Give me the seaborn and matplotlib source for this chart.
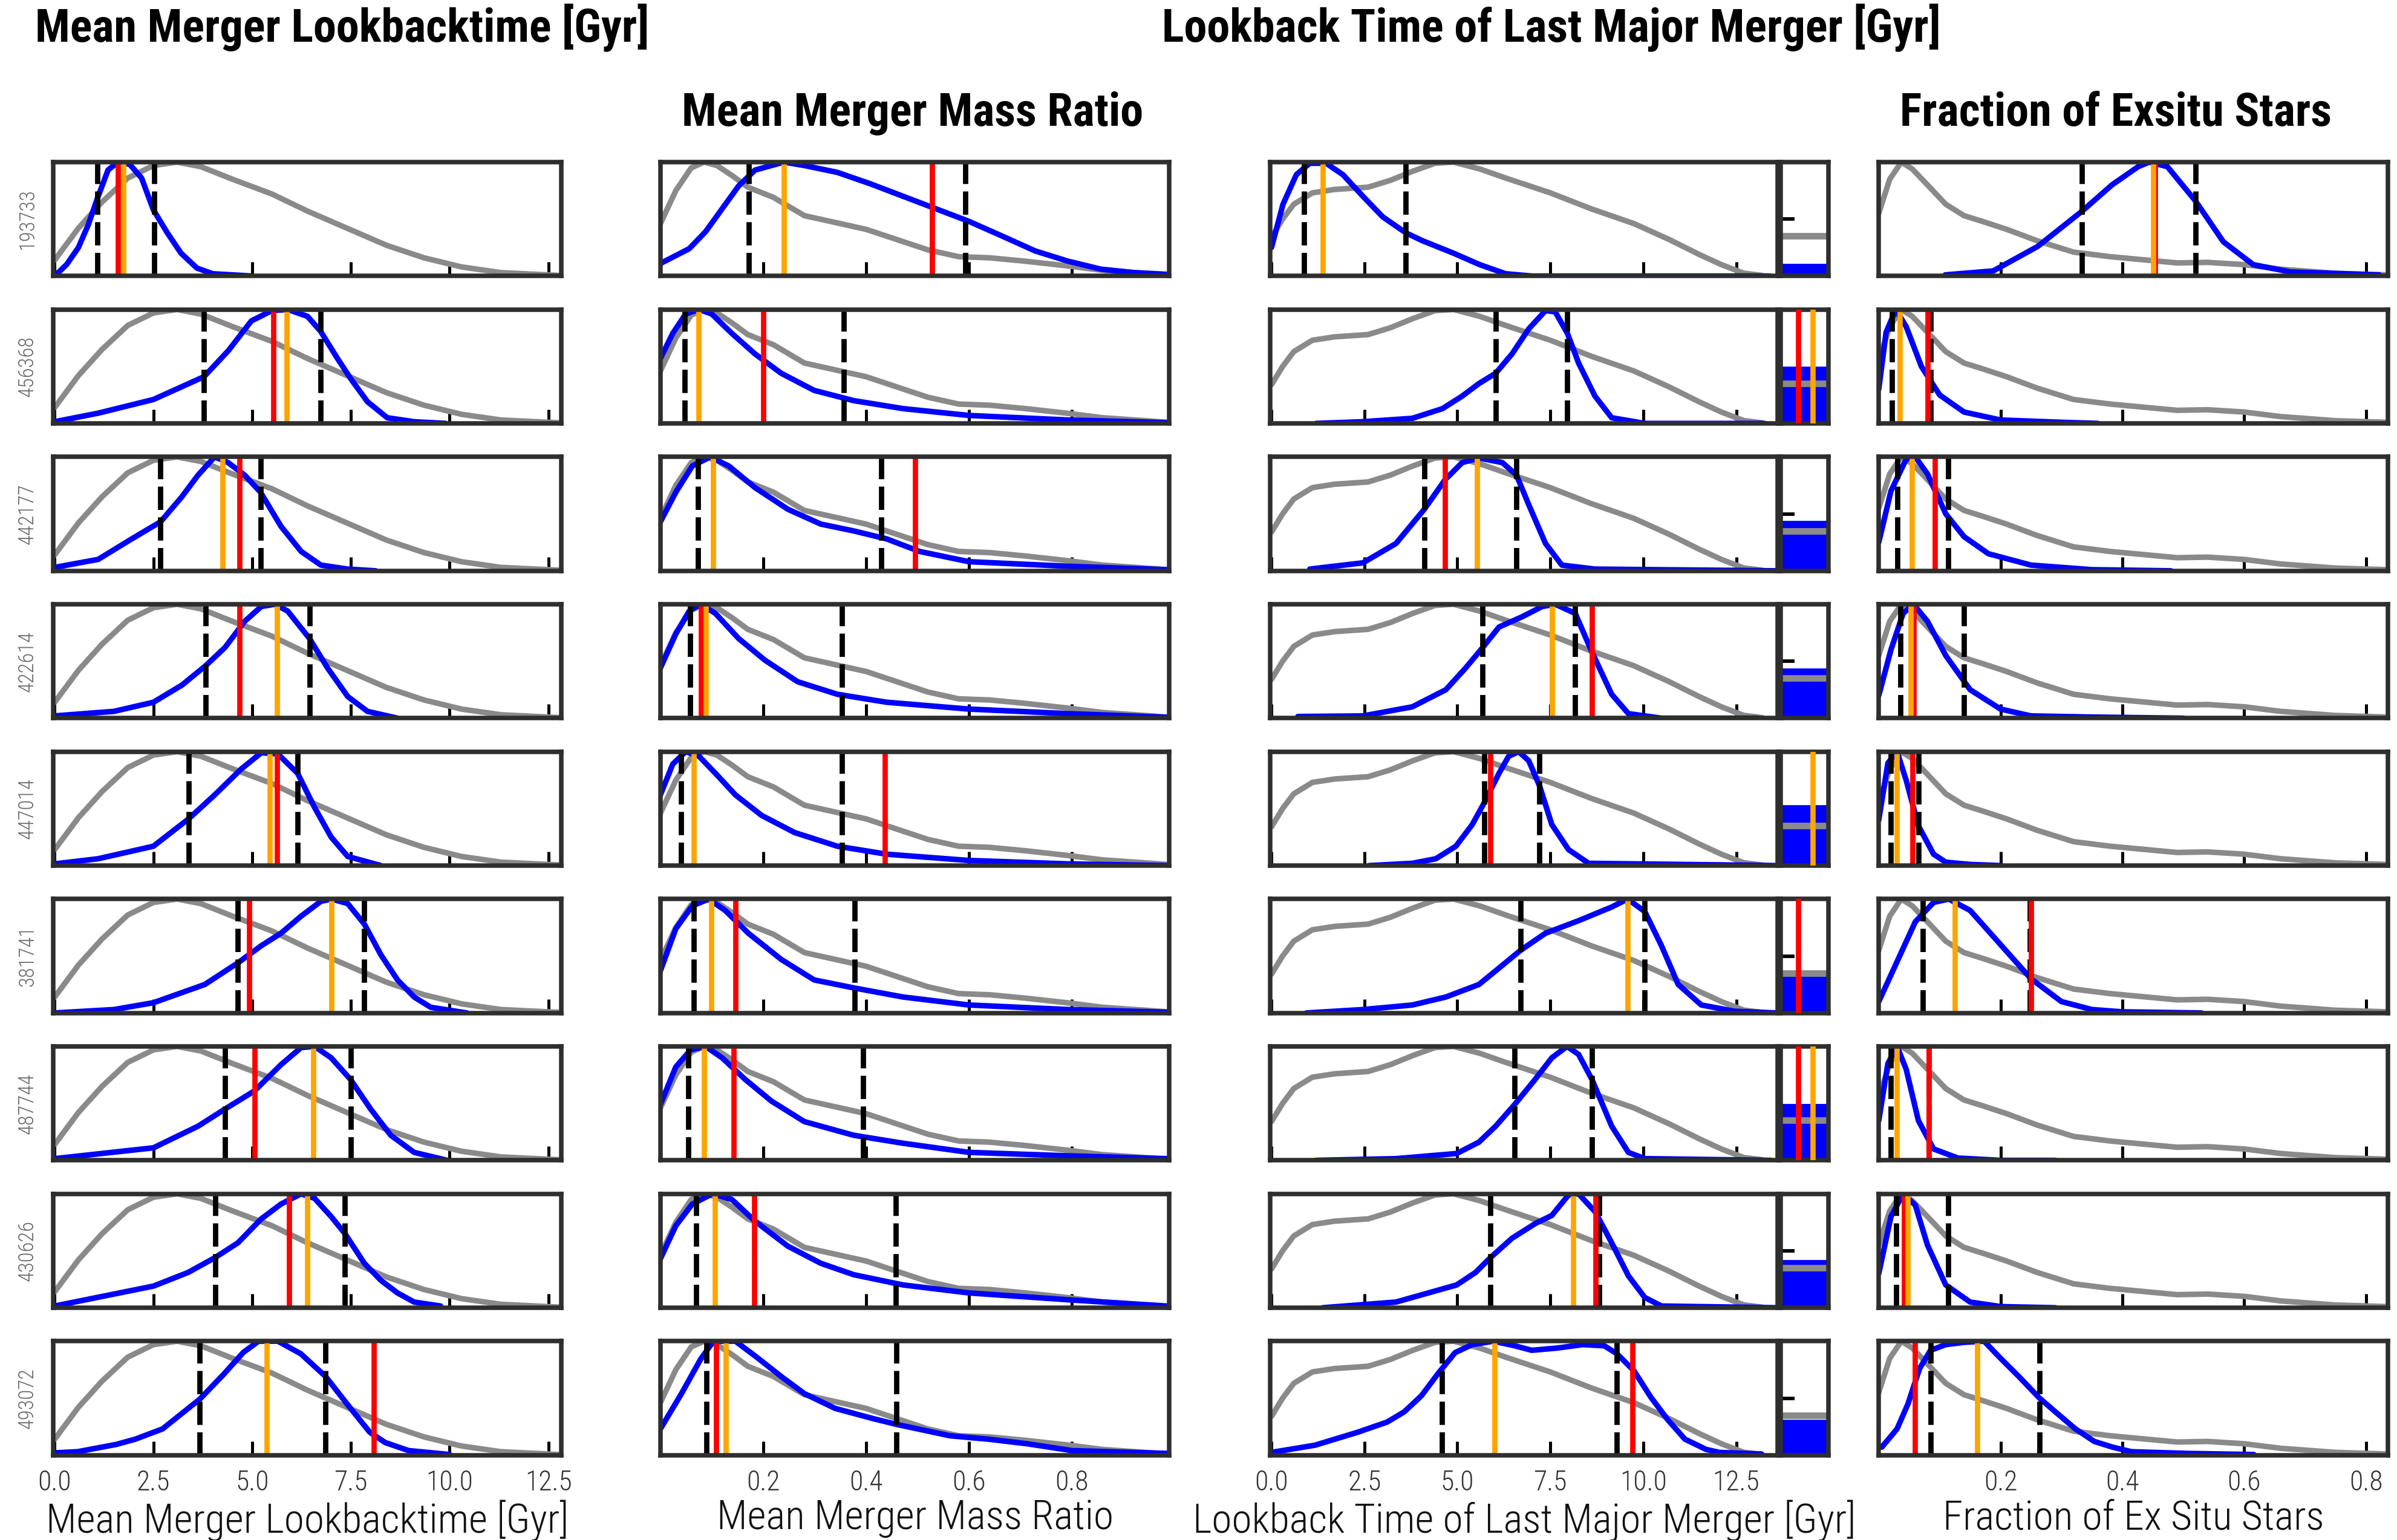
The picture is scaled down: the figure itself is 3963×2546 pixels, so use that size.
import numpy as np
import matplotlib
matplotlib.use("Agg")
import matplotlib.pyplot as plt
import seaborn as sns

# galaxy ids, one per row
galaxy_ids = ['193733', '456368', '442177', '422614', '447014',
              '381741', '487744', '430626', '493072']

# ---------------- Mean merger lookback time [Gyr] ----------------
mlt_prior_x = [0, 0.6, 1.2, 1.85, 2.5, 3.1, 3.7, 4.5, 5.5, 6.4, 7.4, 8.4, 9.35, 10.3, 11.3, 12.8]
mlt_prior_y = [0.14, 0.42, 0.65, 0.86, 0.97, 1.0, 0.96, 0.85, 0.72, 0.57, 0.42, 0.27, 0.16, 0.08, 0.03, 0.005]
mlt_post_x = [
    [0, 0.3, 0.6, 0.85, 1.08, 1.35, 1.6, 1.9, 2.2, 2.5, 2.85, 3.2, 3.6, 4.0, 5.0],
    [0, 1.1, 2.5, 3.78, 4.4, 4.98, 5.5, 5.9, 6.4, 6.73, 7.16, 7.5, 7.92, 8.42, 9.1, 9.9],
    [0, 1.1, 1.95, 2.68, 3.22, 3.63, 4.05, 4.39, 4.81, 5.21, 5.73, 6.24, 6.74, 7.42, 8.13],
    [0, 1.5, 2.5, 3.22, 3.82, 4.31, 4.81, 5.23, 5.57, 5.9, 6.45, 6.91, 7.42, 7.92, 8.68],
    [0, 1.1, 2.5, 3.39, 4.05, 4.73, 5.23, 5.65, 6.15, 6.58, 7.0, 7.42, 8.26],
    [0, 1.5, 2.5, 3.8, 4.64, 5.23, 5.73, 6.24, 6.74, 7.01, 7.42, 7.84, 8.26, 8.68, 9.1, 9.52, 10.44],
    [0, 2.5, 3.63, 4.31, 5.06, 5.73, 6.24, 6.58, 7.0, 7.49, 8.0, 8.51, 9.1, 9.94],
    [0, 2.5, 3.38, 4.06, 4.64, 5.23, 5.73, 6.24, 6.58, 7.0, 7.35, 7.84, 8.26, 8.68, 9.1, 9.77],
    [0, 0.58, 1.56, 2.04, 2.73, 3.67, 4.28, 4.77, 5.16, 5.65, 6.23, 6.86, 7.4, 7.98, 8.37, 8.96, 10.0],
]
mlt_post_y = [
    [0.0, 0.1, 0.25, 0.45, 0.68, 0.93, 1.0, 0.98, 0.86, 0.58, 0.38, 0.2, 0.07, 0.02, 0.0],
    [0.015, 0.09, 0.21, 0.41, 0.64, 0.9, 0.99, 1.0, 0.94, 0.81, 0.57, 0.39, 0.19, 0.05, 0.015, 0.0],
    [0.03, 0.1, 0.28, 0.43, 0.65, 0.84, 1.0, 0.95, 0.84, 0.69, 0.39, 0.17, 0.05, 0.015, 0.0],
    [0.02, 0.06, 0.14, 0.29, 0.46, 0.62, 0.85, 0.98, 1.0, 0.94, 0.7, 0.44, 0.19, 0.06, 0.0],
    [0.015, 0.06, 0.17, 0.41, 0.62, 0.85, 0.99, 0.98, 0.81, 0.51, 0.25, 0.08, 0.0],
    [0.0, 0.03, 0.09, 0.25, 0.44, 0.59, 0.7, 0.85, 0.98, 1.0, 0.96, 0.78, 0.51, 0.29, 0.14, 0.05, 0.0],
    [0.015, 0.11, 0.3, 0.45, 0.61, 0.84, 0.99, 1.0, 0.9, 0.71, 0.45, 0.22, 0.07, 0.0],
    [0.015, 0.19, 0.31, 0.44, 0.57, 0.78, 0.91, 1.0, 0.96, 0.8, 0.65, 0.39, 0.24, 0.13, 0.05, 0.015],
    [0.02, 0.03, 0.094, 0.14, 0.23, 0.49, 0.71, 0.9, 1.0, 1.0, 0.89, 0.69, 0.45, 0.2, 0.11, 0.04, 0.005],
]
mlt_lo = [1.08, 3.78, 2.68, 3.82, 3.39, 4.64, 4.31, 4.06, 3.67]
mlt_hi = [2.52, 6.73, 5.21, 6.45, 6.15, 7.84, 7.49, 7.35, 6.86]
mlt_med = [1.74, 5.88, 4.25, 5.63, 5.45, 7.01, 6.55, 6.4, 5.37]
mlt_true = [1.6, 5.54, 4.68, 4.68, 5.63, 4.92, 5.06, 5.93, 8.08]

# ---------------- Mean merger mass ratio ----------------
mmr_prior_x = [0, 0.03, 0.06, 0.085, 0.11, 0.14, 0.17, 0.22, 0.28, 0.34, 0.40, 0.46, 0.52, 0.58,
               0.64, 0.71, 0.79, 0.86, 0.94, 0.985]
mmr_prior_y = [0.46, 0.75, 0.95, 1.0, 0.97, 0.88, 0.78, 0.69, 0.53, 0.47, 0.41, 0.32, 0.23, 0.17,
               0.16, 0.13, 0.09, 0.05, 0.025, 0.01]
mmr_post_x = [
    [0, 0.056, 0.088, 0.12, 0.152, 0.184, 0.24, 0.28, 0.344, 0.408, 0.472, 0.536, 0.6, 0.665, 0.729, 0.793, 0.857, 0.921, 0.985],
    [0, 0.024, 0.049, 0.075, 0.1, 0.139, 0.184, 0.235, 0.299, 0.376, 0.472, 0.6, 0.793, 0.985],
    [0, 0.03, 0.062, 0.097, 0.133, 0.184, 0.248, 0.312, 0.376, 0.44, 0.504, 0.6, 0.793, 0.985],
    [0, 0.03, 0.056, 0.078, 0.107, 0.152, 0.203, 0.267, 0.344, 0.44, 0.6, 0.793, 0.985],
    [0, 0.024, 0.049, 0.075, 0.107, 0.146, 0.197, 0.261, 0.344, 0.44, 0.6, 0.793, 0.985],
    [0, 0.03, 0.062, 0.094, 0.126, 0.171, 0.235, 0.299, 0.376, 0.472, 0.6, 0.793, 0.985],
    [0, 0.03, 0.059, 0.088, 0.12, 0.165, 0.216, 0.28, 0.376, 0.472, 0.6, 0.793, 0.985],
    [0, 0.03, 0.062, 0.101, 0.139, 0.184, 0.248, 0.312, 0.376, 0.472, 0.6, 0.793, 0.985],
    [0, 0.041, 0.078, 0.1, 0.116, 0.146, 0.19, 0.235, 0.28, 0.34, 0.414, 0.459, 0.563, 0.638, 0.713, 0.8, 0.985],
]
mmr_post_y = [
    [0.11, 0.24, 0.39, 0.59, 0.79, 0.93, 1.0, 0.97, 0.91, 0.81, 0.7, 0.59, 0.48, 0.35, 0.22, 0.13, 0.06, 0.03, 0.015],
    [0.57, 0.79, 0.96, 1.0, 0.96, 0.79, 0.61, 0.44, 0.29, 0.2, 0.13, 0.07, 0.03, 0.007],
    [0.43, 0.69, 0.92, 1.0, 0.92, 0.73, 0.54, 0.41, 0.35, 0.28, 0.17, 0.08, 0.04, 0.01],
    [0.44, 0.74, 0.94, 1.0, 0.92, 0.7, 0.51, 0.32, 0.21, 0.14, 0.08, 0.04, 0.008],
    [0.62, 0.89, 1.0, 0.96, 0.81, 0.62, 0.44, 0.29, 0.17, 0.1, 0.045, 0.015, 0.0],
    [0.37, 0.74, 0.94, 1.0, 0.9, 0.7, 0.47, 0.29, 0.22, 0.14, 0.07, 0.03, 0.007],
    [0.49, 0.82, 0.97, 1.0, 0.9, 0.71, 0.52, 0.34, 0.22, 0.15, 0.07, 0.04, 0.015],
    [0.43, 0.72, 0.91, 1.0, 0.95, 0.76, 0.54, 0.39, 0.29, 0.2, 0.13, 0.07, 0.015],
    [0.23, 0.54, 0.84, 0.98, 1.0, 1.0, 0.85, 0.69, 0.54, 0.41, 0.32, 0.27, 0.17, 0.14, 0.1, 0.04, 0.015],
]
mmr_lo = [0.172, 0.047, 0.073, 0.058, 0.04, 0.065, 0.054, 0.069, 0.09]
mmr_hi = [0.593, 0.357, 0.43, 0.353, 0.353, 0.378, 0.394, 0.458, 0.459]
mmr_med = [0.24, 0.074, 0.102, 0.088, 0.065, 0.099, 0.085, 0.106, 0.127]
mmr_true = [0.528, 0.2, 0.495, 0.079, 0.437, 0.146, 0.142, 0.182, 0.108]

# ---------------- Lookback time of last major merger [Gyr] ----------------
# inf = no major merger (drawn in the side bar), nan = not shown
lmm_prior_x = [0, 0.3, 0.6, 1.1, 1.7, 2.6, 3.2, 3.8, 4.4, 4.9, 5.6, 6.3, 7.5, 8.6, 9.75, 10.7,
               11.5, 12.1, 12.7, 13.2]
lmm_prior_y = [0.34, 0.5, 0.63, 0.73, 0.76, 0.78, 0.84, 0.92, 0.99, 1.0, 0.94, 0.86, 0.73, 0.59,
               0.46, 0.32, 0.19, 0.1, 0.025, 0.005]
lmm_post_x = [
    [0, 0.31, 0.67, 1.03, 1.47, 1.92, 2.46, 2.99, 3.61, 4.06, 4.9, 5.6, 6.3, 7.0, 13.4],
    [1.2, 2.46, 3.79, 4.6, 5.13, 5.58, 6.03, 6.47, 6.92, 7.37, 7.63, 7.96, 8.26, 8.7, 9.15, 10.04, 13.26],
    [1.03, 2.46, 3.35, 4.11, 4.67, 5.13, 5.58, 6.21, 6.59, 6.92, 7.37, 7.81, 8.7, 13.6],
    [0.71, 2.46, 3.79, 4.69, 5.22, 5.68, 6.12, 6.74, 7.28, 7.63, 8.17, 8.62, 9.15, 9.6, 10.49, 13.08],
    [2.63, 3.79, 4.42, 4.96, 5.4, 5.72, 6.12, 6.38, 6.65, 6.92, 7.21, 7.54, 7.99, 8.53, 13.6],
    [0.94, 2.46, 3.79, 4.69, 5.58, 6.03, 6.7, 7.37, 8.26, 9.15, 9.58, 10.04, 10.49, 10.94, 11.56, 12.46, 13.6],
    [1.2, 3.35, 4.98, 5.58, 6.03, 6.54, 7.09, 7.54, 7.95, 8.26, 8.62, 9.15, 9.6, 10.04, 13.44],
    [1.38, 3.35, 4.98, 5.49, 5.89, 6.47, 7.1, 7.54, 7.99, 8.26, 8.71, 9.15, 9.6, 10.04, 10.49, 13.6],
    [0, 1.17, 2.31, 3.11, 3.57, 4.03, 4.49, 4.94, 5.4, 5.97, 6.54, 7.0, 7.69, 8.37, 8.95, 9.29, 9.75,
     10.2, 10.66, 11.12, 11.69, 12.04, 13.18],
]
lmm_post_y = [
    [0.25, 0.63, 0.89, 0.99, 0.99, 0.89, 0.7, 0.52, 0.38, 0.31, 0.2, 0.1, 0.02, 0.0, 0.0],
    [0.0, 0.015, 0.045, 0.13, 0.24, 0.35, 0.44, 0.61, 0.83, 0.99, 0.98, 0.79, 0.53, 0.24, 0.05, 0.0, 0.0],
    [0.015, 0.07, 0.24, 0.54, 0.8, 0.95, 0.99, 0.95, 0.84, 0.58, 0.24, 0.05, 0.015, 0.0],
    [0.015, 0.02, 0.1, 0.25, 0.44, 0.62, 0.8, 0.89, 0.98, 1.0, 0.92, 0.58, 0.21, 0.04, 0.0, 0.0],
    [0.0, 0.02, 0.06, 0.17, 0.36, 0.55, 0.81, 0.96, 1.0, 0.92, 0.7, 0.36, 0.14, 0.02, 0.0],
    [0.0, 0.03, 0.07, 0.14, 0.25, 0.37, 0.55, 0.7, 0.81, 0.93, 1.0, 0.89, 0.59, 0.25, 0.07, 0.015, 0.0],
    [0.0, 0.015, 0.06, 0.16, 0.3, 0.49, 0.71, 0.9, 1.0, 0.93, 0.71, 0.3, 0.07, 0.015, 0.0],
    [0.0, 0.05, 0.2, 0.31, 0.44, 0.61, 0.74, 0.81, 0.99, 1.0, 0.84, 0.57, 0.28, 0.09, 0.015, 0.0],
    [0.024, 0.087, 0.2, 0.29, 0.38, 0.52, 0.72, 0.9, 0.97, 1.0, 0.96, 0.92, 0.94, 0.97, 0.96, 0.89,
     0.74, 0.51, 0.31, 0.14, 0.05, 0.024, 0.01],
]
lmm_lo = [0.87, 6.03, 4.11, 5.68, 5.72, 6.7, 6.54, 5.89, 4.58]
lmm_hi = [3.61, 7.96, 6.59, 8.17, 7.21, 10.04, 8.62, 8.82, 9.29]
lmm_med = [1.38, np.inf, 5.53, 7.55, np.inf, 9.58, np.inf, 8.11, 6.0]
lmm_true = [np.nan, np.inf, 4.67, 8.62, 5.89, np.inf, np.inf, 8.71, 9.71]

# fraction of posterior / prior with no major merger (side bar)
nomm_post = [0.12, 0.51, 0.45, 0.45, 0.54, 0.38, 0.505, 0.43, 0.32]
nomm_prior = 0.35

# ---------------- Fraction of ex situ stars ----------------
fex_prior_x = [0, 0.018, 0.037, 0.055, 0.08, 0.11, 0.14, 0.17, 0.21, 0.26, 0.32, 0.38, 0.44,
               0.49, 0.54, 0.6, 0.66, 0.75, 0.835]
fex_prior_y = [0.55, 0.85, 1.0, 0.94, 0.8, 0.63, 0.53, 0.48, 0.41, 0.31, 0.21, 0.17, 0.14,
               0.115, 0.12, 0.1, 0.06, 0.024, 0.01]
fex_post_x = [
    [0.109, 0.188, 0.261, 0.334, 0.383, 0.426, 0.444, 0.474, 0.52, 0.566, 0.615, 0.676, 0.822],
    [0.0, 0.012, 0.028, 0.045, 0.07, 0.1, 0.14, 0.2, 0.3, 0.36],
    [0.0, 0.02, 0.045, 0.06, 0.08, 0.11, 0.14, 0.18, 0.25, 0.35, 0.48],
    [0.0, 0.02, 0.04, 0.057, 0.08, 0.11, 0.15, 0.2, 0.25, 0.35, 0.5],
    [0.0, 0.015, 0.03, 0.045, 0.065, 0.09, 0.11, 0.15, 0.2],
    [0.0, 0.03, 0.06, 0.09, 0.115, 0.15, 0.2, 0.25, 0.3, 0.35, 0.4, 0.53],
    [0.0, 0.015, 0.03, 0.045, 0.065, 0.09, 0.13, 0.2, 0.29],
    [0.0, 0.02, 0.04, 0.06, 0.08, 0.11, 0.15, 0.2, 0.29],
    [0.005, 0.03, 0.048, 0.067, 0.085, 0.11, 0.14, 0.173, 0.2, 0.23, 0.264, 0.29, 0.323, 0.354,
     0.384, 0.415, 0.506, 0.616],
]
fex_post_y = [
    [0.01, 0.045, 0.26, 0.57, 0.8, 0.96, 1.0, 0.96, 0.66, 0.3, 0.1, 0.036, 0.01],
    [0.3, 0.8, 1.0, 0.85, 0.5, 0.25, 0.1, 0.03, 0.01, 0.0],
    [0.25, 0.7, 0.98, 1.0, 0.85, 0.5, 0.3, 0.15, 0.05, 0.01, 0.0],
    [0.2, 0.6, 0.92, 1.0, 0.85, 0.55, 0.25, 0.08, 0.02, 0.01, 0.0],
    [0.4, 0.9, 1.0, 0.75, 0.35, 0.1, 0.03, 0.01, 0.0],
    [0.1, 0.45, 0.8, 0.97, 1.0, 0.9, 0.6, 0.3, 0.1, 0.03, 0.01, 0.0],
    [0.35, 0.85, 1.0, 0.8, 0.35, 0.1, 0.02, 0.0, 0.0],
    [0.3, 0.8, 1.0, 0.9, 0.55, 0.2, 0.05, 0.01, 0.0],
    [0.07, 0.23, 0.45, 0.76, 0.92, 0.97, 0.99, 1.0, 0.85, 0.69, 0.5, 0.38, 0.23, 0.12, 0.07, 0.03,
     0.015, 0.005],
]
fex_lo = [0.334, 0.022, 0.031, 0.036, 0.02, 0.072, 0.02, 0.029, 0.085]
fex_hi = [0.52, 0.085, 0.114, 0.14, 0.065, 0.248, 0.082, 0.114, 0.264]
fex_med = [0.451, 0.035, 0.054, 0.052, 0.03, 0.125, 0.03, 0.047, 0.162]
fex_true = [0.454, 0.08, 0.092, 0.057, 0.055, 0.25, 0.082, 0.042, 0.059]

# axis settings per column
lbt_ticks = [0.0, 2.5, 5.0, 7.5, 10.0, 12.5]
frac_ticks = [0.2, 0.4, 0.6, 0.8]

# ---------------- style ----------------
sns.set_theme(style='white')
plt.rcParams['font.family'] = ['Roboto Condensed', 'Roboto', 'Liberation Sans', 'DejaVu Sans']
TITLE_FONT = ['Roboto Condensed', 'Liberation Sans', 'DejaVu Sans']
LABEL_FONT = ['Roboto Condensed', 'Roboto', 'Liberation Sans', 'DejaVu Sans']

GREY = '#8a8a8a'
SPINE = '#2e2e2e'
DASH = (0, (4.4, 1.4))
LW = 2.1

fig = plt.figure(figsize=(3963 / 300, 2546 / 300), dpi=300)

# layout measured on a 1568 x 1007 grid
GW, GH = 1568.0, 1007.0
row_top0, row_pitch, row_h = 106.0, 96.375, 74.5


def add_ax(left, top, width, height):
    return fig.add_axes([left / GW, 1 - (top + height) / GH, width / GW, height / GH])


def style_ax(ax, xlim, ticks, show_labels):
    ax.set_xlim(*xlim)
    ax.set_ylim(0, 1.0)
    ax.set_yticks([])
    ax.set_xticks(ticks)
    ax.set_xticklabels([f'{t:.1f}' for t in ticks], family=LABEL_FONT, fontweight='light')
    ax.tick_params(axis='x', direction='in', length=5.5, width=1.2, color='black',
                   bottom=True, top=False, labelbottom=show_labels, pad=5.5,
                   labelsize=11, labelcolor='#333333')
    for s in ax.spines.values():
        s.set_visible(True)
        s.set_color(SPINE)
        s.set_linewidth(1.8)
    ax.set_xlabel('')
    ax.set_ylabel('')


def draw_panel(ax, px, py, bx, by, lo, hi, med, true):
    sns.lineplot(x=px, y=py, ax=ax, color=GREY, lw=2.2, sort=False, estimator=None)
    sns.lineplot(x=bx, y=by, ax=ax, color='blue', lw=2.2, sort=False, estimator=None)
    ax.axvline(lo, color='black', lw=LW, ls=DASH)
    ax.axvline(hi, color='black', lw=LW, ls=DASH)
    if np.isfinite(true):
        ax.axvline(true, color='red', lw=LW)
    if np.isfinite(med):
        ax.axvline(med, color='orange', lw=LW)


columns = [
    dict(left=35, width=332, xlim=(-0.03, 12.82), ticks=lbt_ticks,
         px=mlt_prior_x, py=mlt_prior_y, bx=mlt_post_x, by=mlt_post_y,
         lo=mlt_lo, hi=mlt_hi, med=mlt_med, true=mlt_true,
         xlabel='Mean Merger Lookbacktime [Gyr]'),
    dict(left=432, width=333, xlim=(0.0, 0.99), ticks=frac_ticks,
         px=mmr_prior_x, py=mmr_prior_y, bx=mmr_post_x, by=mmr_post_y,
         lo=mmr_lo, hi=mmr_hi, med=mmr_med, true=mmr_true,
         xlabel='Mean Merger Mass Ratio'),
    dict(left=831, width=332, xlim=(-0.03, 13.62), ticks=lbt_ticks,
         px=lmm_prior_x, py=lmm_prior_y, bx=lmm_post_x, by=lmm_post_y,
         lo=lmm_lo, hi=lmm_hi, med=lmm_med, true=lmm_true,
         xlabel='Lookback Time of Last Major Merger [Gyr]'),
    dict(left=1229, width=333, xlim=(0.0, 0.836), ticks=frac_ticks,
         px=fex_prior_x, py=fex_prior_y, bx=fex_post_x, by=fex_post_y,
         lo=fex_lo, hi=fex_hi, med=fex_med, true=fex_true,
         xlabel='Fraction of Ex Situ Stars'),
]

n_rows = len(galaxy_ids)
for i in range(n_rows):
    top = row_top0 + i * row_pitch
    last = i == n_rows - 1
    for c in columns:
        ax = add_ax(c['left'], top, c['width'], row_h)
        draw_panel(ax, c['px'], c['py'], c['bx'][i], c['by'][i],
                   c['lo'][i], c['hi'][i], c['med'][i], c['true'][i])
        style_ax(ax, c['xlim'], c['ticks'], last)
        if last:
            ax.set_xlabel(c['xlabel'], fontsize=16.2, labelpad=1.5, color='#111111',
                          family=LABEL_FONT, fontweight='light')

    # side bar: probability of no major merger
    axb = add_ax(1165, top, 31, row_h)
    axb.bar([0.5], [nomm_post[i]], width=1.0, color='blue', zorder=1)
    axb.axhline(nomm_prior, color=GREY, lw=2.6, zorder=2)
    if np.isinf(lmm_true[i]):
        axb.axvline(0.365, color='red', lw=LW, zorder=3)
    if np.isinf(lmm_med[i]):
        axb.axvline(0.672, color='orange', lw=LW, zorder=3)
    axb.set_xlim(0, 1)
    axb.set_ylim(0, 1)
    axb.set_yticks([0, 0.5, 1])
    axb.set_xticks([0.06, 0.98])
    axb.tick_params(axis='y', direction='in', length=5.5, width=1.4, color='black',
                    left=True, labelleft=False)
    axb.tick_params(axis='x', direction='in', length=2.5, width=1.2, color='black',
                    bottom=True, labelbottom=False)
    for s in axb.spines.values():
        s.set_visible(True)
        s.set_color(SPINE)
        s.set_linewidth(1.8)

    # galaxy id label on the left
    fig.text(18 / GW, 1 - (top + row_h / 2) / GH, galaxy_ids[i], rotation=90,
             ha='center', va='center', fontsize=8.3, color='#6a6a6a',
             family=LABEL_FONT, fontweight='light')

# column titles
title_kw = dict(fontsize=18.3, fontweight='bold', va='center', color='black', family=TITLE_FONT)
fig.text(23 / GW, 1 - 18 / GH, 'Mean Merger Lookbacktime [Gyr]', ha='left', **title_kw)
fig.text(1015 / GW, 1 - 18 / GH, 'Lookback Time of Last Major Merger [Gyr]', ha='center', **title_kw)
fig.text(597 / GW, 1 - 74 / GH, 'Mean Merger Mass Ratio', ha='center', **title_kw)
fig.text(1384 / GW, 1 - 74 / GH, 'Fraction of Exsitu Stars', ha='center', **title_kw)

fig.savefig('out.png', dpi=300)
